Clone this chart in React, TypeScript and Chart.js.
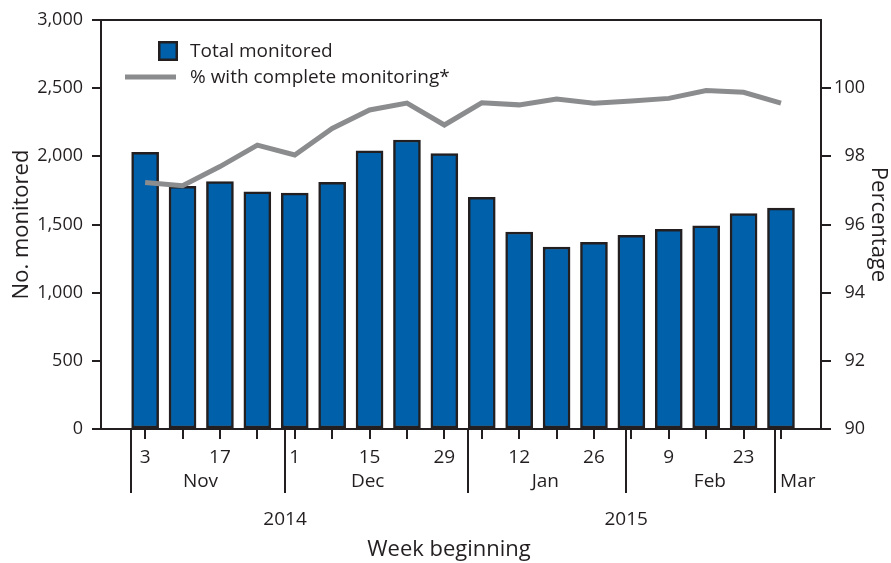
import React, { useEffect, useRef } from "react";
import { Chart, registerables } from "chart.js";

Chart.register(...registerables);

// ---- Data ----
const weekIndex = [0, 1, 2, 3, 4, 5, 6, 7, 8, 9, 10, 11, 12, 13, 14, 15, 16, 17];
const totalMonitored = [2030, 1780, 1815, 1740, 1730, 1810, 2040, 2120, 2020, 1700, 1445, 1335, 1370, 1420, 1465, 1490, 1580, 1620];
const pctComplete = [97.23, 97.14, 97.7, 98.33, 98.04, 98.82, 99.36, 99.56, 98.92, 99.57, 99.51, 99.68, 99.56, 99.62, 99.7, 99.93, 99.88, 99.56];
const dayLabels = ["3", "", "17", "", "1", "", "15", "", "29", "", "12", "", "26", "", "9", "", "23", ""];
const monthNames = ["Nov", "Dec", "Jan", "Feb", "Mar"];
const monthStarts = [-0.37, 3.74, 8.64, 12.86, 16.84];
const monthLabelPos = [1.48, 5.95, 10.7, 15.1, 17.45];
const yearLabels = ["2014", "2015"];
const yearLabelPos = [3.74, 12.86];
const leftTicks = [0, 500, 1000, 1500, 2000, 2500, 3000];
const rightTicks = [90, 92, 94, 96, 98, 100];

const INK = "#231F20";
const BLUE = "#0060A9";
const GRAY = "#8B8C8E";
const FONT = "'Open Sans', 'Noto Sans', sans-serif";

const customPlugin = {
  id: "customDecor",
  afterDraw(chart: any) {
    const ctx = chart.ctx as CanvasRenderingContext2D;
    const xs = chart.scales.x;
    const ca = chart.chartArea;
    const line = (x1: number, y1: number, x2: number, y2: number) => {
      ctx.beginPath();
      ctx.moveTo(x1, y1);
      ctx.lineTo(x2, y2);
      ctx.stroke();
    };
    ctx.save();
    ctx.strokeStyle = INK;
    ctx.lineWidth = 2;
    ctx.lineCap = "butt";
    line(ca.left, ca.top, ca.right, ca.top);
    line(ca.left - 1, ca.bottom, ca.right + 1, ca.bottom);
    weekIndex.forEach((i) => {
      const x = Math.round(xs.getPixelForValue(i));
      line(x, ca.bottom, x, ca.bottom + 10);
    });
    monthStarts.forEach((v) => {
      const x = Math.round(xs.getPixelForValue(v));
      line(x, ca.bottom, x, ca.bottom + 64);
    });

    ctx.fillStyle = INK;
    ctx.textAlign = "center";
    ctx.textBaseline = "alphabetic";
    ctx.font = `19px ${FONT}`;
    weekIndex.forEach((i) => {
      if (dayLabels[i]) ctx.fillText(dayLabels[i], xs.getPixelForValue(i), ca.bottom + 34);
    });
    monthNames.forEach((m, k) => {
      ctx.fillText(m, xs.getPixelForValue(monthLabelPos[k]), ca.bottom + 58);
    });
    yearLabels.forEach((y, k) => {
      ctx.fillText(y, xs.getPixelForValue(yearLabelPos[k]), ca.bottom + 96);
    });
    ctx.font = `22px ${FONT}`;
    ctx.fillText("Week beginning", (ca.left + ca.right) / 2 - 12, ca.bottom + 127);

    // axis titles
    const midY = (ca.top + ca.bottom) / 2;
    ctx.save();
    ctx.translate(28, midY);
    ctx.rotate(-Math.PI / 2);
    ctx.fillText("No. monitored", 0, 0);
    ctx.restore();
    ctx.save();
    ctx.translate(872, midY);
    ctx.rotate(Math.PI / 2);
    ctx.fillText("Percentage", 0, 0);
    ctx.restore();

    // legend
    ctx.fillStyle = BLUE;
    ctx.fillRect(158, 41, 20, 20);
    ctx.lineWidth = 2.5;
    ctx.strokeStyle = INK;
    ctx.strokeRect(159.25, 42.25, 17.5, 17.5);
    ctx.strokeStyle = GRAY;
    ctx.lineWidth = 5;
    line(125, 77, 176, 77);
    ctx.fillStyle = INK;
    ctx.textAlign = "left";
    ctx.font = `19px ${FONT}`;
    ctx.fillText("Total monitored", 190, 57);
    ctx.fillText("% with complete monitoring*", 190, 83);
    ctx.restore();
  },
};

export default function App() {
  const ref = useRef<HTMLCanvasElement | null>(null);
  useEffect(() => {
    if (!ref.current) return;
    const chart = new Chart(ref.current, {
      type: "bar",
      data: {
        datasets: [
          {
            type: "line",
            label: "% with complete monitoring*",
            data: weekIndex.map((i) => ({ x: i, y: pctComplete[i] })),
            yAxisID: "y2",
            borderColor: GRAY,
            borderWidth: 5,
            pointRadius: 0,
            tension: 0,
            order: 0,
          } as any,
          {
            type: "bar",
            label: "Total monitored",
            data: weekIndex.map((i) => ({ x: i, y: totalMonitored[i] })),
            yAxisID: "y",
            backgroundColor: BLUE,
            borderColor: INK,
            borderWidth: 2.5,
            borderSkipped: false,
            barThickness: 27,
            order: 1,
          } as any,
        ],
      },
      options: {
        animation: false,
        responsive: false,
        devicePixelRatio: 1,
        layout: { padding: { top: 20, bottom: 134, left: 0, right: 26 } },
        plugins: { legend: { display: false }, tooltip: { enabled: false } },
        scales: {
          x: {
            type: "linear",
            min: -1.18,
            max: 18.07,
            offset: false,
            display: false,
          },
          y: {
            position: "left",
            min: 0,
            max: 3000,
            afterBuildTicks: (s: any) => {
              s.ticks = leftTicks.map((v) => ({ value: v }));
            },
            afterFit: (s: any) => {
              s.width = 101;
            },
            ticks: {
              color: INK,
              font: { size: 18, family: FONT },
              padding: 9,
              callback: (v: any) => Number(v).toLocaleString("en-US"),
            },
            grid: { drawOnChartArea: false, drawTicks: true, tickLength: 9, color: INK, lineWidth: 2 },
            border: { display: true, color: INK, width: 2 },
          },
          y2: {
            position: "right",
            min: 90,
            max: 102,
            afterBuildTicks: (s: any) => {
              s.ticks = rightTicks.map((v) => ({ value: v }));
            },
            afterFit: (s: any) => {
              s.width = 44;
            },
            ticks: {
              color: INK,
              font: { size: 18, family: FONT },
              padding: 3,
              crossAlign: "far",
              callback: (v: any) => String(v),
            },
            grid: { drawOnChartArea: false, drawTicks: true, tickLength: 10, color: INK, lineWidth: 2 },
            border: { display: true, color: INK, width: 2 },
          },
        },
      } as any,
      plugins: [customPlugin],
    });
    return () => chart.destroy();
  }, []);
  return (
    <div style={{ position: "absolute", left: 0, top: 0, width: 891, height: 563, background: "#fff" }}>
      <canvas ref={ref} width={891} height={563} style={{ display: "block" }} />
    </div>
  );
}
